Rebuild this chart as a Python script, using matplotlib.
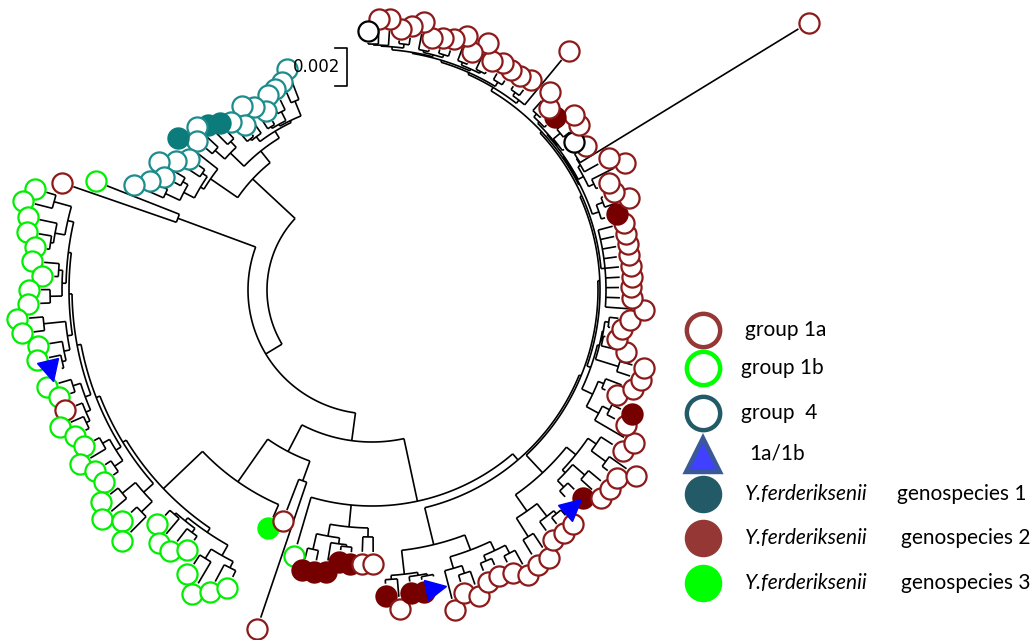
import numpy as np
import matplotlib
matplotlib.use('Agg')
import matplotlib.pyplot as plt
from matplotlib.markers import MarkerStyle
from matplotlib.transforms import Affine2D

# Tree data (newick-like): leaf code : distance from the centre, node : distance from the centre
# a = group 1a, b = group 1b, t = group 4, x = 1a/1b, k = unassigned,
# T / R / G = Y.ferderiksenii genospecies 1 / 2 / 3
teal_a1 = "((t:225,t:215):204,((t:211,t:209):200,(t:196,t:206):192):190):188"
teal_a2 = "(t:213,(t:196,t:208):194):192"
teal_a3 = "((T:214,T:221):205,(t:227,t:218):210):197"
teal_b = "(T:234,((t:213,t:223):206,((t:236,t:225):218,(t:235,t:248):228):212):200):196"
pair = "(b:285,a:316):207"
green_c1 = "((b:340,b:348):330,(b:340,(b:338,b:328):325):322):312"
green_c2 = "((b:329,b:318):314,(b:331,b:332):322):310"
green_c3 = "((b:344,b:341):330,(b:327,(b:330,x:320):318):314):308"
green_c4 = "((b:327,b:319):314,(a:318,(b:329,b:319):315):311):306"
green_c5 = "((b:316,b:328):310,(b:319,b:318):312):302"
green_c6 = "((b:332,b:342):322,(b:328,b:342):320):305"
green_low = "(((b:306,b:319):299,(b:318,b:307):302):297,((b:327,b:341):316,(b:331,b:319):312):305):293"
red_pair = "(a:236,a:346):203"
dark_red = "(((R:277,R:276):266,(R:274,(R:262,R:263):258):256):250,(a:262,a:262):247):238"
right_s1 = "((R:294,a:308):290,(R:294,(R:294,x:293):291):289):286"
right_s2 = "((a:319,(a:305,a:312):298):290,((a:302,a:301):294,(a:304,a:313):297):288):278"
right_s3 = ("(((a:309,a:309):292,(a:297,(a:298,a:297):290):286):270,"
            "(((x:283,R:284):275,(a:297,a:298):282):266,((a:297,a:311):290,a:286):272):262):250")
right_s4 = ("(((a:292,(a:275,R:276):266):258,(a:254,a:267):250):244,"
            "((a:272,a:271):258,((a:249,a:238):236,(a:241,a:248):239):235):234):232")
right_s5 = "(a:261,a:248,a:247,a:248,a:248,a:247,a:248,a:248,a:249):234"
right_s6 = ("((R:244,(a:261,a:249):247):240,(((a:248,a:271):246,(a:259,(a:500,a:246):244):243):240,"
            "((k:238,(a:253,a:255):245):236,(R:240,(a:242,a:254):241):237):235):234):233")
right_s7 = ("((a:298,(a:251,a:248):244):240,((a:248,a:250):243,(((a:246,a:261):244,(a:246,a:259):245):242,"
            "(((a:252,a:250):246,(a:247,a:261):245):243,((a:255,a:251):248,(a:260,(a:259,k:247):246):245):244):241)"
            ":240):238):236")

teal = f"((({teal_a1},{teal_a2}):186,{teal_a3}):178,{teal_b}):163"
green = (f"((((({green_c1},{green_c2}):306,{green_c3}):303,{green_c4}):300,"
         f"{green_c5}):296,{green_c6}):292")
green = f"({green},{green_low}):288"
right = f"({right_s6},{right_s7}):232"
right = f"({right_s5},{right}):230"
right = f"({right_s4},{right}):228"
right = f"({right_s3},{right}):226"
right = f"(({right_s1},{right_s2}):262,{right}):224"
lower = f"((({green},G:248):234,{red_pair}):182,(b:265,{dark_red},{right}):216):152"
tree_str = f"({teal},({pair},{lower}):124):105"

scale_len = 38  # 0.002


def parse(s):
    pos = 0

    def node():
        nonlocal pos
        kids = []
        if s[pos] == '(':
            pos += 1
            kids.append(node())
            while s[pos] == ',':
                pos += 1
                kids.append(node())
            pos += 1
        name = ''
        while s[pos] != ':':
            name += s[pos]
            pos += 1
        pos += 1
        start = pos
        while pos < len(s) and s[pos] not in ',)':
            pos += 1
        return {'name': name, 'r': float(s[start:pos]), 'kids': kids}

    return node()


tree = parse(tree_str)

leaves = []


def collect(n):
    if not n['kids']:
        leaves.append(n)
    for c in n['kids']:
        collect(c)


collect(tree)
angles = np.radians(np.linspace(111, 450.9, len(leaves)))
for lf, a in zip(leaves, angles):
    lf['a'] = a


def set_angle(n):
    if n['kids']:
        for c in n['kids']:
            set_angle(c)
        n['a'] = (n['kids'][0]['a'] + n['kids'][-1]['a']) / 2


set_angle(tree)

fig = plt.figure(figsize=(10.35, 6.4), dpi=100)
R = 560
cx, cy = 372, 290
ax = fig.add_axes([(cx - R) / 1035, (640 - cy - R) / 640, 2 * R / 1035, 2 * R / 640],
                  projection='polar')
ax.set_ylim(0, R)
ax.axis('off')

lw = 1.2


def draw(n):
    if not n['kids']:
        return
    a0, a1 = n['kids'][0]['a'], n['kids'][-1]['a']
    t = np.linspace(a0, a1, max(2, int(abs(a1 - a0) * 60)))
    ax.plot(t, np.full_like(t, n['r']), color='black', lw=lw, solid_capstyle='butt')
    for c in n['kids']:
        ax.plot([c['a'], c['a']], [n['r'], c['r']], color='black', lw=lw, solid_capstyle='butt')
        draw(c)


draw(tree)

styles = {
    'a': dict(mfc='white', mec='#8c1a1a'),
    'b': dict(mfc='white', mec='#00ee00'),
    't': dict(mfc='white', mec='#1c8c8c'),
    'k': dict(mfc='white', mec='black'),
    'T': dict(mfc='#0b7b7b', mec='#0b7b7b'),
    'R': dict(mfc='#760000', mec='#760000'),
    'G': dict(mfc='#00ff00', mec='#00ff00'),
}
offset = 12
for lf in leaves:
    code = lf['name']
    if code == 'x':
        m = MarkerStyle('^', transform=Affine2D().rotate_deg(np.degrees(lf['a'])))
        ax.plot(lf['a'], lf['r'] + offset, marker=m, ms=15, mfc='#0000ff', mec='#0000ff',
                mew=1, ls='none', zorder=5, clip_on=False)
    else:
        ax.plot(lf['a'], lf['r'] + offset, marker='o', ms=14.5, mew=1.6, ls='none',
                zorder=4, clip_on=False, **styles[code])

# overlay for scale bar and legend
ov = fig.add_axes([0, 0, 1, 1])
ov.set_xlim(0, 1035)
ov.set_ylim(640, 0)
ov.axis('off')
ov.patch.set_alpha(0)

ov.plot([335, 347, 347, 335], [48, 48, 48 + scale_len, 48 + scale_len], color='black', lw=1.2)
ov.text(317, 67, '0.002', fontsize=12, ha='center', va='center', family='DejaVu Sans')

font = 'Lato'
fs = 15
leg_y = [330, 368, 413, 453, 494, 538, 583]
leg_x = 703
ov.plot(leg_x, leg_y[0], 'o', ms=24, mfc='white', mec='#953735', mew=3.2)
ov.plot(leg_x, leg_y[1], 'o', ms=24, mfc='white', mec='#00ff00', mew=3.2)
ov.plot(leg_x, leg_y[2], 'o', ms=24, mfc='white', mec='#225b67', mew=3.2)
ov.plot(leg_x, leg_y[3] + 2, '^', ms=24, mfc='#4040ff', mec='#3b5998', mew=3.2)
ov.plot(leg_x, leg_y[4], 'o', ms=26, color='#225b67')
ov.plot(leg_x, leg_y[5], 'o', ms=26, color='#953735')
ov.plot(leg_x, leg_y[6], 'o', ms=26, color='#00ff00')

ov.text(745, leg_y[0], 'group 1a', fontsize=fs, family=font, va='center')
ov.text(741, leg_y[1], 'group 1b', fontsize=fs, family=font, va='center')
ov.text(741, leg_y[2], 'group  4', fontsize=fs, family=font, va='center')
ov.text(749, leg_y[3], '1a/1b', fontsize=fs, family=font, va='center')
for i, (y, xg) in enumerate(zip(leg_y[4:], [897, 901, 901])):
    ov.text(745, y, 'Y.ferderiksenii', fontsize=fs, family=font, style='italic', va='center')
    ov.text(xg, y, f'genospecies {i + 1}', fontsize=fs, family=font, va='center')

fig.savefig('out.png', dpi=100)
